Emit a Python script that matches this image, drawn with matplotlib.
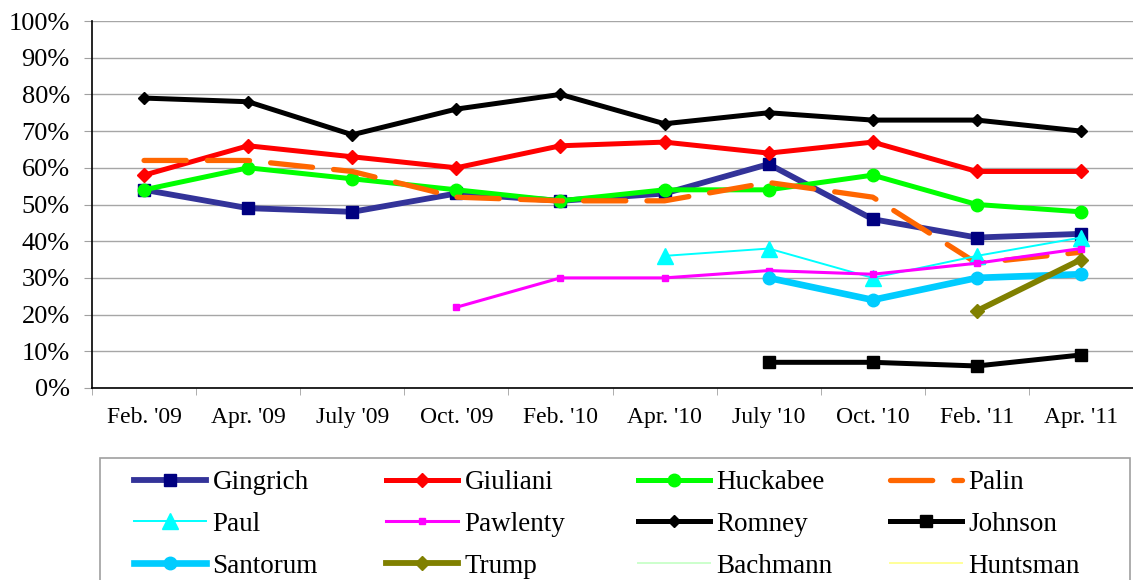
import matplotlib
matplotlib.use('Agg')
import matplotlib.pyplot as plt
from matplotlib.patches import Rectangle
import numpy as np

plt.rcParams['font.family'] = ['Liberation Serif', 'DejaVu Serif']

# 调查时间点
months = ["Feb. '09", "Apr. '09", "July '09", "Oct. '09", "Feb. '10",
          "Apr. '10", "July '10", "Oct. '10", "Feb. '11", "Apr. '11"]
nan = np.nan

gingrich = [54, 49, 48, 53, 51, 53, 61, 46, 41, 42]
giuliani = [58, 66, 63, 60, 66, 67, 64, 67, 59, 59]
huckabee = [54, 60, 57, 54, 51, 54, 54, 58, 50, 48]
palin = [62, 62, 59, 52, 51, 51, 56, 52, 34, 37]
paul = [nan, nan, nan, nan, nan, 36, 38, 30, 36, 41]
pawlenty = [nan, nan, nan, 22, 30, 30, 32, 31, 34, 38]
romney = [79, 78, 69, 76, 80, 72, 75, 73, 73, 70]
johnson = [nan, nan, nan, nan, nan, nan, 7, 7, 6, 9]
santorum = [nan, nan, nan, nan, nan, nan, 30, 24, 30, 31]
trump = [nan, nan, nan, nan, nan, nan, nan, nan, 21, 35]
bachmann = [nan] * 10
huntsman = [nan] * 10

W, H = 1133, 580
fig = plt.figure(figsize=(W / 100, H / 100), dpi=100)
ax = fig.add_axes([92 / W, (H - 388) / H, (W - 92) / W, (388 - 21) / H])

x = np.arange(len(months))

ax.plot(x, gingrich, color='#333399', lw=4.2, marker='s', ms=9,
        mfc='#000080', mec='#000080', label='Gingrich')
ax.plot(x, giuliani, color='#FF0000', lw=3.6, marker='D', ms=7,
        label='Giuliani')
ax.plot(x, huckabee, color='#00FF00', lw=3.6, marker='o', ms=9,
        label='Huckabee')
ax.plot(x, palin, color='#FF6600', lw=3.8, dashes=(8, 4),
        dash_capstyle='round', label='Palin')
ax.plot(x, paul, color='#00FFFF', lw=1.4, marker='^', ms=12,
        label='Paul')
ax.plot(x, pawlenty, color='#FF00FF', lw=2.2, marker='s', ms=5,
        label='Pawlenty')
ax.plot(x, romney, color='black', lw=3.6, marker='D', ms=6.5,
        label='Romney')
ax.plot(x, johnson, color='black', lw=3.6, marker='s', ms=9,
        label='Johnson')
ax.plot(x, santorum, color='#00CCFF', lw=4.8, marker='o', ms=9,
        label='Santorum')
ax.plot(x, trump, color='#808000', lw=4.2, marker='D', ms=7,
        label='Trump')
ax.plot(x, bachmann, color='#CCFFCC', lw=1.4, label='Bachmann')
ax.plot(x, huntsman, color='#FFFF99', lw=1.4, label='Huntsman')

ax.set_xlim(-0.5, len(months) - 0.5)
ax.set_ylim(0, 100)
ax.set_yticks(np.arange(0, 101, 10))
ax.set_yticklabels([f'{v}%' for v in range(0, 101, 10)], fontsize=19)
ax.set_xticks(x)
ax.set_xticklabels(months, fontsize=17)
ax.set_xticks(np.arange(-0.5, len(months), 1), minor=True)
ax.tick_params(axis='x', which='major', length=0, pad=14)
ax.tick_params(axis='x', which='minor', length=5, color='#A0A0A0')
ax.tick_params(axis='y', length=6, color='#A0A0A0', pad=10)

ax.grid(True, axis='y', color='#A6A6A6', lw=1)
ax.set_axisbelow(True)
for s in ['top', 'right']:
    ax.spines[s].set_visible(False)
ax.spines['left'].set_linewidth(1.2)
ax.spines['bottom'].set_linewidth(1.2)

# 图例：4列，每列单独放置，按行顺序排列
handles, labels = ax.get_legend_handles_labels()
ncol = 4
col_x = [134, 386, 638, 890]
for c in range(ncol):
    idx = list(range(c, len(handles), ncol))
    fig.legend([handles[i] for i in idx], [labels[i] for i in idx],
               loc='upper left', bbox_to_anchor=(col_x[c] / W, (H - 470) / H),
               borderaxespad=0, fontsize=19.5, handlelength=2.65,
               handletextpad=0.25, labelspacing=0.62, borderpad=0.0,
               frameon=False)
fig.patches.append(Rectangle((100 / W, -0.05), 1030 / W, (H - 458) / H + 0.05,
                             transform=fig.transFigure, fill=False,
                             edgecolor='#A0A0A0', lw=1.2))

fig.savefig('out.png', dpi=100, facecolor='white')
